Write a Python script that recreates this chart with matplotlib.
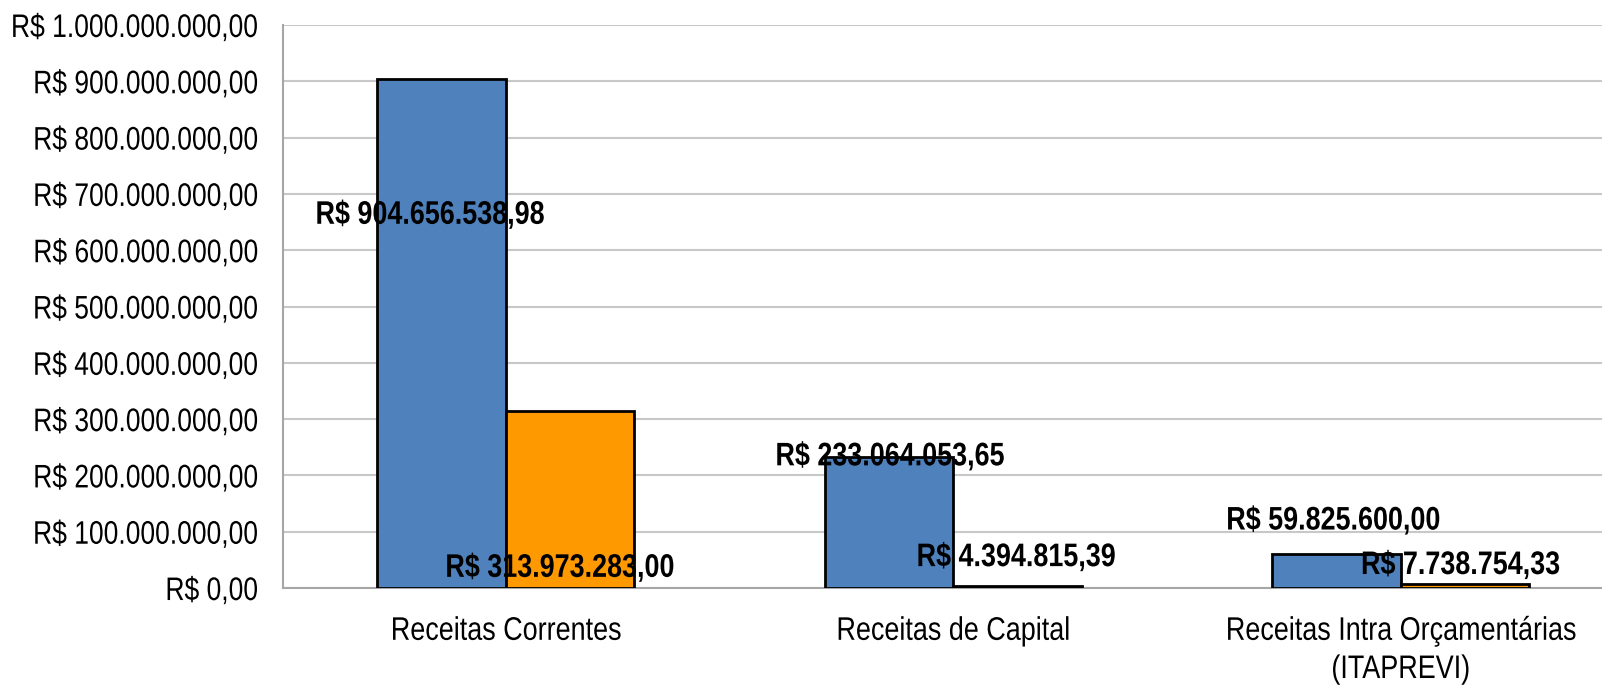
import numpy as np
import matplotlib.pyplot as plt
from matplotlib import font_manager
from matplotlib.patheffects import AbstractPathEffect
from matplotlib.transforms import Affine2D, Bbox

# categories and values (R$)
categories = ['Receitas Correntes', 'Receitas de Capital',
              'Receitas Intra Orçamentárias\n(ITAPREVI)']
previsto = [904656538.98, 233064053.65, 59825600.00]
arrecadado = [313973283.00, 4394815.39, 7738754.33]
tick_values = np.arange(0, 1.0e9 + 1, 1.0e8)

# label placement (x offset from category centre, y in data units)
label_pos_blue = [(-0.17, 0.662e9), (-0.142, 0.233e9), (-0.151, 0.119e9)]
label_pos_orange = [(0.12, 0.035e9), (0.14, 0.054e9), (0.133, 0.040e9)]

BLUE = '#4F81BD'
ORANGE = '#FF9900'
GRID = '#C8C8C8'
FS = 23.5


class Squeeze(AbstractPathEffect):
    """Compress text horizontally to mimic a narrow font."""

    def __init__(self, sx=0.84, anchor='center'):
        super().__init__()
        self.sx = sx
        self.anchor = anchor

    def draw_path(self, renderer, gc, tpath, affine, rgbFace=None):
        ext = tpath.get_extents()
        if self.anchor == 'right':
            cx = ext.x1
        elif self.anchor == 'left':
            cx = ext.x0
        else:
            cx = (ext.x0 + ext.x1) / 2
        t = Affine2D().translate(-cx, 0).scale(self.sx, 1).translate(cx, 0) + affine
        renderer.draw_path(gc, tpath, t, rgbFace)


def squeeze(text, sx, anchor='center'):
    """Apply the squeeze effect and keep the reported extent in line with it."""
    text.set_path_effects([Squeeze(sx, anchor)])
    orig = text.get_window_extent

    def extent(renderer=None, dpi=None):
        bb = orig(renderer, dpi)
        if anchor == 'right':
            cx = bb.x1
        elif anchor == 'left':
            cx = bb.x0
        else:
            cx = (bb.x0 + bb.x1) / 2
        return Bbox([[cx + (bb.x0 - cx) * sx, bb.y0],
                     [cx + (bb.x1 - cx) * sx, bb.y1]])

    text.get_window_extent = extent
    return text


def pick_font():
    names = {f.name for f in font_manager.fontManager.ttflist}
    for n in ['Liberation Sans', 'Arial', 'DejaVu Sans']:
        if n in names:
            return n
    return 'DejaVu Sans'


def brl(v):
    s = f'{v:,.2f}'
    s = s.replace(',', 'X').replace('.', ',').replace('X', '.')
    return 'R$ ' + s


def main():
    font = pick_font()
    plt.rcParams['font.family'] = [font, 'DejaVu Sans']

    fig = plt.figure(figsize=(16.02, 6.88), dpi=100)
    ax = fig.add_axes([0.1767, 0.1453, 0.8233, 0.8184])

    x = np.arange(len(categories))
    w = 0.287
    ax.bar(x - w / 2, previsto, w, color=BLUE, edgecolor='black',
           linewidth=2, zorder=3)
    ax.bar(x + w / 2, arrecadado, w, color=ORANGE, edgecolor='black',
           linewidth=2, zorder=3)

    for i in range(len(categories)):
        dx, y = label_pos_blue[i]
        t = ax.text(x[i] + dx, y, brl(previsto[i]), ha='center', va='center',
                    fontsize=FS, fontweight='bold', zorder=5)
        squeeze(t, 0.825)
        dx, y = label_pos_orange[i]
        t = ax.text(x[i] + dx, y, brl(arrecadado[i]), ha='center', va='center',
                    fontsize=FS, fontweight='bold', zorder=5)
        squeeze(t, 0.825)

    ax.set_xlim(-0.498, 2.45)
    ax.set_ylim(0, 1.0e9)
    ax.set_yticks(tick_values)
    ax.set_yticklabels([brl(v) for v in tick_values], fontsize=FS)
    ax.set_xticks(x)
    ax.set_xticklabels(categories, fontsize=FS, linespacing=1.3)
    ax.tick_params(axis='y', length=0, pad=18)
    ax.tick_params(axis='x', length=0, pad=20)

    for lab in ax.get_yticklabels():
        squeeze(lab, 0.81, 'right')
    for lab in ax.get_xticklabels():
        squeeze(lab, 0.826)

    ax.grid(axis='y', color=GRID, linewidth=1.5, zorder=0)
    for s in ['top', 'right']:
        ax.spines[s].set_visible(False)
    ax.spines['left'].set_color('#A6A6A6')
    ax.spines['left'].set_linewidth(1.5)
    ax.spines['bottom'].set_color('#A6A6A6')
    ax.spines['bottom'].set_linewidth(1.5)

    fig.savefig('out.png', dpi=100)


if __name__ == '__main__':
    main()
